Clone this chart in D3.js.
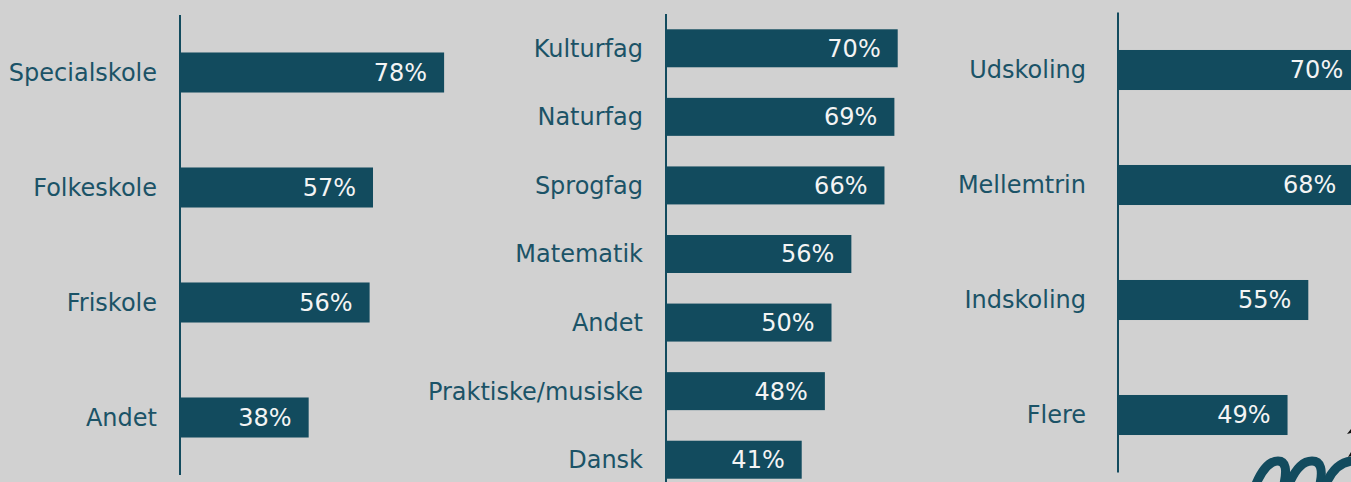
<!DOCTYPE html>
<html>
<head>
<meta charset="utf-8">
<script src="https://cdn.jsdelivr.net/npm/d3@7"></script>
<style>
  html, body { margin: 0; padding: 0; background: #d1d1d1; overflow: hidden; }
  svg { display: block; }
</style>
</head>
<body>
<div id="chart"></div>
<script>
// data per panel
const skoleCats = ["Specialskole", "Folkeskole", "Friskole", "Andet"];
const skoleVals = [78, 57, 56, 38];

const fagCats = ["Kulturfag", "Naturfag", "Sprogfag", "Matematik", "Andet", "Praktiske/musiske", "Dansk"];
const fagVals = [70, 69, 66, 56, 50, 48, 41];

const trinCats = ["Udskoling", "Mellemtrin", "Indskoling", "Flere"];
const trinVals = [70, 68, 55, 49];

const barColor = "#124b5e",
    labelColor = "#1b5367";

const W = 1351, H = 482;

const svg = d3.select("#chart")
  .append("svg")
    .attr("width", W)
    .attr("height", H);

svg.append("rect").attr("width", W).attr("height", H).attr("fill", "#d1d1d1");

// one horizontal bar panel
function panel(cats, vals, opt) {
  const data = cats.map((c, i) => ({cat: c, val: vals[i]}));

  const y = d3.scaleBand()
      .domain(cats)
      .range([opt.top, opt.bottom])
      .paddingInner(opt.pad)
      .paddingOuter(opt.pad / 2);

  const x = d3.scaleLinear()
      .domain([0, 100])
      .range([opt.axisX, opt.axisX + opt.pxPer100]);

  const g = svg.append("g");

  g.selectAll("rect")
    .data(data)
    .join("rect")
      .attr("x", x(0))
      .attr("y", d => y(d.cat))
      .attr("width", d => x(d.val) - x(0))
      .attr("height", y.bandwidth())
      .attr("fill", barColor);

  // vertical axis line
  g.append("line")
      .attr("x1", x(0)).attr("x2", x(0))
      .attr("y1", opt.top).attr("y2", opt.bottom)
      .attr("stroke", barColor)
      .attr("stroke-width", 2);

  // category labels
  g.selectAll("text.cat")
    .data(data)
    .join("text")
      .attr("class", "cat")
      .attr("x", x(0) - opt.labelGap)
      .attr("y", d => y(d.cat) + y.bandwidth() / 2)
      .attr("dy", "0.35em")
      .attr("text-anchor", "end")
      .attr("fill", labelColor)
      .style("font", "24px 'DejaVu Sans', Verdana, sans-serif")
      .text(d => d.cat);

  // value labels inside the bars
  g.selectAll("text.val")
    .data(data)
    .join("text")
      .attr("class", "val")
      .attr("x", d => x(d.val) - 17)
      .attr("y", d => y(d.cat) + y.bandwidth() / 2)
      .attr("dy", "0.35em")
      .attr("text-anchor", "end")
      .attr("fill", "#f4f4f4")
      .style("font", "24px 'DejaVu Sans', Verdana, sans-serif")
      .text(d => d.val + "%");
}

panel(skoleCats, skoleVals, {axisX: 180, top: 15, bottom: 475, pad: 0.652, pxPer100: 338.6, labelGap: 23});
panel(fagCats, fagVals, {axisX: 666, top: 14, bottom: 494, pad: 0.446, pxPer100: 331, labelGap: 23});
panel(trinCats, trinVals, {axisX: 1118, top: 12.5, bottom: 472.5, pad: 0.652, pxPer100: 346, labelGap: 32});

// cropped logo mark in the corner (decorative script strokes)
const logo = svg.append("g")
    .attr("fill", "none")
    .attr("stroke", barColor)
    .attr("stroke-width", 9);
logo.append("path").attr("d", "M1256,484 C1262,470 1270,461 1278,461 C1286,461 1287,470 1284,484");
logo.append("path").attr("d", "M1289,484 C1295,470 1303,461 1312,461 C1321,461 1323,470 1320,484");
logo.append("path").attr("d", "M1326,484 C1332,470 1340,462 1352,461");
svg.append("path")
    .attr("d", "M1347,434 L1351,429 L1351,433 Z M1348,457 L1351,452 L1351,456 Z")
    .attr("fill", "#111");
</script>
</body>
</html>
